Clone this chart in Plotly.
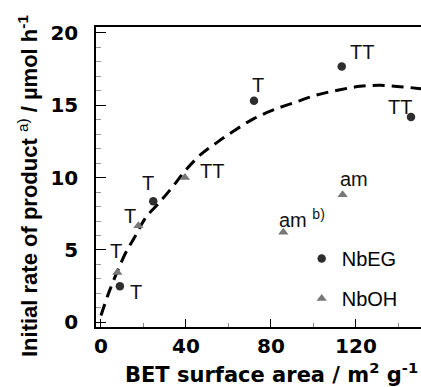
import plotly.graph_objects as go

# ---- data ----
nbeg_x = [8.9, 24.6, 72.0, 113.3, 145.9]
nbeg_y = [2.50, 8.37, 15.3, 17.67, 14.18]
nbeg_lab = ["T", "T", "T", "TT", "TT"]

nboh_x = [7.7, 17.6, 39.5, 85.8, 113.7]
nboh_y = [3.44, 6.67, 10.0, 6.23, 8.82]
nboh_lab = ["T", "T", "TT", "am <sup>b)</sup>", "am"]

fit_x = [0, 3.9, 11.4, 16.1, 21.2, 27.0, 33.3, 39.5, 47.0, 54.8, 62.3, 71.7,
         81.1, 91.3, 101.5, 112.5, 121.9, 131.3, 140.7, 149.3, 152]
fit_y = [0.47, 2.14, 4.74, 5.95, 7.27, 8.2, 9.29, 10.45, 11.6, 12.45, 13.2, 14.05,
         14.67, 15.2, 15.7, 16.07, 16.3, 16.37, 16.28, 16.16, 16.12]

x_ticks = [0, 40, 80, 120]
y_ticks = [0, 5, 10, 15, 20]

# label offsets (pixels): (xshift, yshift)
nbeg_off = [(16, -6), (-5, 18), (4, 16), (20, 15), (-11, 10)]
nboh_off = [(-1, 22), (-8, 10), (27, 7), (19, 14), (11, 16)]

FONT = "Liberation Sans, Arial, sans-serif"
BFONT = "DejaVu Sans, sans-serif"

fig = go.Figure()
fig.add_trace(go.Scatter(x=fit_x, y=fit_y, mode="lines", showlegend=False,
                         line=dict(color="black", width=3, dash="12px,7px", shape="spline", smoothing=1),
                         hoverinfo="skip"))
fig.add_trace(go.Scatter(x=nbeg_x, y=nbeg_y, mode="markers", name="NbEG", legendgroup="a",
                         marker=dict(symbol="circle", size=8.5, color="#2e2e2e")))
fig.add_trace(go.Scatter(x=nboh_x, y=nboh_y, mode="markers", name="NbOH", legendgroup="b",
                         marker=dict(symbol="triangle-up", size=9, color="#777777")))

annots = []
for xs, ys, labs, offs in [(nbeg_x, nbeg_y, nbeg_lab, nbeg_off), (nboh_x, nboh_y, nboh_lab, nboh_off)]:
    for xv, yv, lab, (dx, dy) in zip(xs, ys, labs, offs):
        annots.append(dict(x=xv, y=yv, xref="x", yref="y", text=lab, showarrow=False,
                           xshift=dx, yshift=dy, font=dict(family=FONT, size=20, color="#111")))

annots.append(dict(x=(271 - 96) / 325, y=(327 - 373) / 300, xref="paper", yref="paper",
                   text="BET surface area / m<sup>2</sup> g<sup>-1</sup>", showarrow=False,
                   xanchor="center", yanchor="middle",
                   font=dict(family=BFONT, size=21, color="black", weight="bold")))
annots.append(dict(x=(27.5 - 96) / 325, y=(327 - 186.5) / 300, xref="paper", yref="paper",
                   text="Initial rate of product <sup><span style='font-weight:normal'>a)</span></sup> / µmol h<sup>-1</sup>",
                   showarrow=False, textangle=-90, xanchor="center", yanchor="middle",
                   font=dict(family=FONT, size=22, color="black", weight="bold")))

fig.update_layout(
    width=421, height=387,
    margin=dict(l=96, r=0, t=27, b=60),
    paper_bgcolor="white", plot_bgcolor="white",
    annotations=annots,
    legend=dict(x=(301.7 - 96) / 325, y=(327 - 239) / 300, xanchor="left", yanchor="top",
                font=dict(family=FONT, size=20, color="black"), bgcolor="rgba(0,0,0,0)",
                tracegroupgap=11, traceorder="grouped"),
    xaxis=dict(range=[-2.35, 150.6], showline=True, linecolor="black", linewidth=1.5, mirror=True,
               ticks="inside", tickvals=x_ticks, ticklen=8, tickwidth=1, tickcolor="black",
               minor=dict(tickvals=[20, 60, 100, 140], ticks="inside", ticklen=4, tickcolor="#888"),
               showgrid=False, zeroline=False,
               tickfont=dict(family=BFONT, size=20, color="black", weight="bold")),
    yaxis=dict(range=[-0.32, 20.4], showline=True, linecolor="black", linewidth=1.5,
               ticks="inside", tickvals=y_ticks, ticklabelstandoff=12,
               ticklen=10, tickwidth=1, tickcolor="black",
               minor=dict(dtick=1, ticks="inside", ticklen=5, tickcolor="#999"),
               showgrid=False, zeroline=False,
               tickfont=dict(family=BFONT, size=20, color="black", weight="bold")),
)

fig.write_html("out.html")
